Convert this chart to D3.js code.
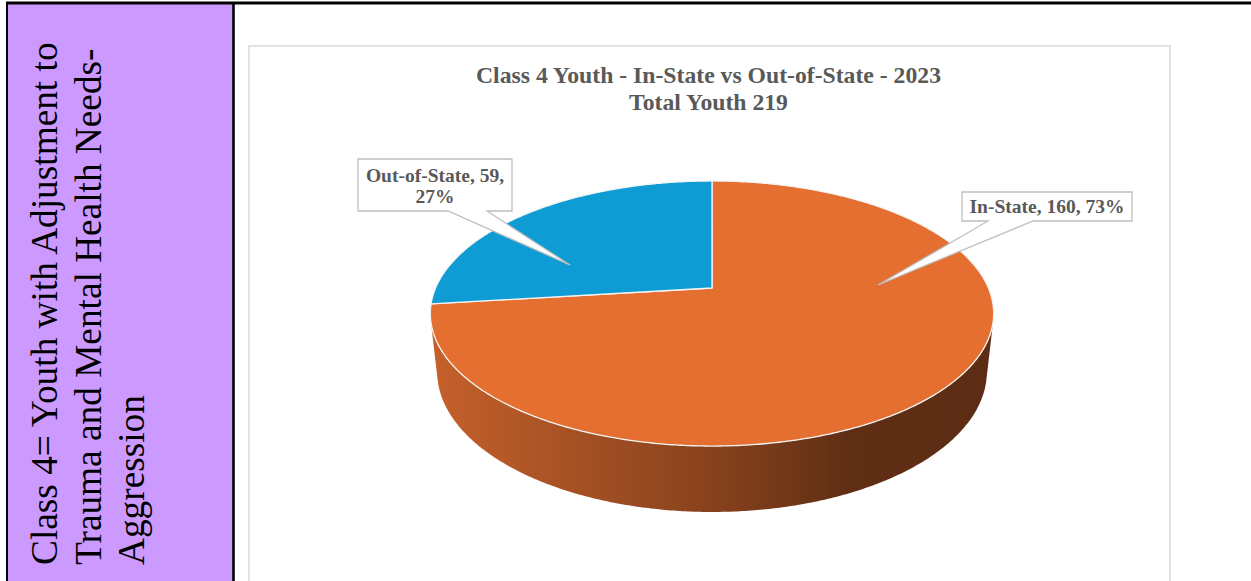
<!DOCTYPE html>
<html>
<head>
<meta charset="utf-8">
<script src="https://cdn.jsdelivr.net/npm/d3@7"></script>
<style>
  html, body { margin: 0; padding: 0; background: #fff; }
  svg { display: block; }
</style>
</head>
<body>
<svg id="chart" width="1251" height="581"></svg>
<script>
// ---- data ----
const categories = ["In-State", "Out-of-State"];
const values = [160, 59];
const sliceColors = ["#E46F31", "#0F9CD4"];
const chartTitle = "Class 4 Youth - In-State vs Out-of-State - 2023";
const totalTitle = "Total Youth";
const rowHeading = ["Class 4= Youth with Adjustment to", "Trauma and Mental Health Needs-", "Aggression"];

// ---- layout ----
const W = 1251, H = 581;
const serif = "'Liberation Serif','Times New Roman',Times,serif";
const textGray = "#595959";

const svg = d3.select("#chart").attr("width", W).attr("height", H);
const defs = svg.append("defs");

// Table row: purple heading cell, black rules
svg.append("rect").attr("x", 7).attr("y", 3).attr("width", 226).attr("height", H)
  .attr("fill", "#CC99FF");
svg.append("line").attr("x1", 6).attr("x2", W).attr("y1", 3).attr("y2", 3)
  .attr("stroke", "#000").attr("stroke-width", 3);
svg.append("line").attr("x1", 7).attr("x2", 7).attr("y1", 2).attr("y2", H)
  .attr("stroke", "#000").attr("stroke-width", 2);
svg.append("line").attr("x1", 233.5).attr("x2", 233.5).attr("y1", 2).attr("y2", H)
  .attr("stroke", "#000").attr("stroke-width", 2.6);

// Rotated heading in the purple cell
const heading = svg.append("g").attr("transform", "translate(0,565) rotate(-90)");
const headBaselines = [57, 100.5, 144];
heading.selectAll("text").data(rowHeading).join("text")
  .attr("x", 0)
  .attr("y", (d, i) => headBaselines[i])
  .attr("font-family", serif)
  .attr("font-size", 37.3)
  .attr("fill", "#000")
  .text(d => d);

// Chart area frame
const frame = { x: 249, y: 46, w: 921, h: 600 };
svg.append("rect").attr("x", frame.x).attr("y", frame.y)
  .attr("width", frame.w).attr("height", frame.h)
  .attr("fill", "#fff").attr("stroke", "#d9d9d9").attr("stroke-width", 1.5);

// Title
const total = d3.sum(values);
const titleX = frame.x + frame.w / 2 - 1;
const title = svg.append("g")
  .attr("font-family", serif).attr("font-weight", "bold")
  .attr("font-size", 23.7).attr("fill", textGray).attr("text-anchor", "middle");
title.append("text").attr("x", titleX).attr("y", 83).text(chartTitle);
title.append("text").attr("x", titleX).attr("y", 110).text(`${totalTitle} ${total}`);

// ---- 3D pie with perspective ----
const pieCx = 712, pieCy = 288;          // projected centre of the top face
const focal = 1274, camDist = 4.609;     // camera, in units of pie radius
const tilt = 27.5 * Math.PI / 180;       // elevation of the view
const thickness = 0.239;                 // pie height, in units of radius
const sT = Math.sin(tilt), cT = Math.cos(tilt);

// angle: clockwise from 12 o'clock (d3.pie convention), r: radius fraction, h: depth below top face
function project(angle, r, h) {
  const a = r * Math.sin(angle);
  const b = -r * Math.cos(angle);        // +b is toward the viewer
  const Y = b * sT + h * cT;
  const Z = camDist - b * cT + h * sT;
  return [pieCx + focal * a / Z, pieCy + focal * Y / Z];
}

const arcs = d3.pie().sort(null).value(d => d)(values);
const step = Math.PI / 360;
function arcAngles(a0, a1) {
  const n = Math.max(2, Math.ceil((a1 - a0) / step));
  return d3.range(n + 1).map(i => a0 + (a1 - a0) * i / n);
}
const line = d3.line();

// side gradients (lit from the left)
const xLeft = project(1.5 * Math.PI, 1, 0)[0];
const xRight = project(0.5 * Math.PI, 1, 0)[0];
arcs.forEach((arc, i) => {
  const base = d3.color(sliceColors[i]);
  const g = defs.append("linearGradient").attr("id", `side-${i}`)
    .attr("gradientUnits", "userSpaceOnUse")
    .attr("x1", xLeft).attr("x2", xRight).attr("y1", 0).attr("y2", 0);
  [[0, 0.42], [0.25, 0.9], [0.5, 1.45], [0.75, 2.45], [1, 2.55]].forEach(([o, k]) => {
    g.append("stop").attr("offset", o).attr("stop-color", base.darker(k).formatHex());
  });
});

// Side walls: only the front-facing runs of each slice's rim
const sideLayer = svg.append("g");
arcs.forEach((arc, i) => {
  const angs = arcAngles(arc.startAngle, arc.endAngle);
  let run = [];
  const runs = [];
  for (let k = 0; k < angs.length - 1; k++) {
    const p1 = project(angs[k], 1, 0), p2 = project(angs[k + 1], 1, 0);
    const p4 = project(angs[k], 1, thickness);
    const cross = (p2[0] - p1[0]) * (p4[1] - p1[1]) - (p2[1] - p1[1]) * (p4[0] - p1[0]);
    if (cross < 0) {
      if (!run.length) run.push(angs[k]);
      run.push(angs[k + 1]);
    } else if (run.length) { runs.push(run); run = []; }
  }
  if (run.length) runs.push(run);
  runs.forEach(r => {
    const pts = r.map(a => project(a, 1, 0))
      .concat(r.slice().reverse().map(a => project(a, 1, thickness)));
    sideLayer.append("path").attr("d", line(pts) + "Z")
      .attr("fill", `url(#side-${i})`);
  });
});

// Top faces
svg.append("g").selectAll("path").data(arcs).join("path")
  .attr("d", d => line([project(0, 0, 0)].concat(arcAngles(d.startAngle, d.endAngle).map(a => project(a, 1, 0)))) + "Z")
  .attr("fill", (d, i) => sliceColors[i])
  .attr("stroke", "#f4f4f4").attr("stroke-width", 1.3).attr("stroke-linejoin", "round");

// ---- data callouts ----
const pct = d3.format(".0%");
const labelLines = arcs.map((d, i) => {
  const txt = `${categories[i]}, ${values[i]}, ${pct(values[i] / total)}`;
  return i === 1 ? [`${categories[i]}, ${values[i]},`, pct(values[i] / total)] : [txt];
});
const callouts = [
  { box: [962, 192, 1132, 221], base: [988, 1033], tip: [878, 285], baselines: [213] },
  { box: [358, 159, 512, 211], base: [448, 487], tip: [570, 265], baselines: [182, 203] }
];
const calloutLayer = svg.append("g");
callouts.forEach((c, i) => {
  const [x0, y0, x1, y1] = c.box;
  const p = d3.path();
  p.moveTo(x0, y0); p.lineTo(x1, y0); p.lineTo(x1, y1);
  p.lineTo(c.base[1], y1); p.lineTo(c.tip[0], c.tip[1]); p.lineTo(c.base[0], y1);
  p.lineTo(x0, y1); p.closePath();
  calloutLayer.append("path").attr("d", p.toString())
    .attr("fill", "#fff").attr("stroke", "#bfbfbf").attr("stroke-width", 1.3)
    .attr("stroke-linejoin", "miter");
  calloutLayer.selectAll(null).data(labelLines[i]).join("text")
    .attr("x", (x0 + x1) / 2)
    .attr("y", (d, j) => c.baselines[j])
    .attr("text-anchor", "middle")
    .attr("font-family", serif).attr("font-weight", "bold")
    .attr("font-size", 19.5).attr("fill", textGray)
    .text(d => d);
});
</script>
</body>
</html>
